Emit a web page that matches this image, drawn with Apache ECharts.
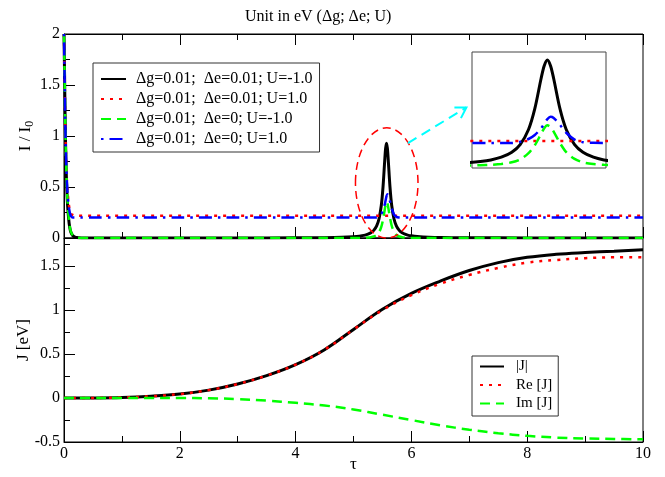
<!DOCTYPE html>
<html>
<head>
<meta charset="utf-8">
<script src="https://cdn.jsdelivr.net/npm/echarts@6/dist/echarts.min.js"></script>
<style>
html, body { margin: 0; padding: 0; background: #fff; }
#chart { width: 665px; height: 477px; }
</style>
</head>
<body>
<div id="chart"></div>
<script>
// ---- top panel: I / I0 against tau ----
var tauI = [0, 0.01, 0.02, 0.03, 0.04, 0.05, 0.06, 0.08, 0.1, 0.12, 0.15, 0.18, 0.22, 0.3, 0.5, 1, 2, 3, 4,
  4.5, 4.8, 5.0, 5.1, 5.2, 5.25, 5.3, 5.35, 5.4, 5.44, 5.48, 5.51, 5.54, 5.555, 5.57, 5.585, 5.6, 5.63, 5.66,
  5.7, 5.74, 5.79, 5.84, 5.9, 5.95, 6.0, 6.1, 6.2, 6.4, 6.7, 7, 8, 9, 10];
// dg=0.01; de=0.01; U=-1.0
var iBlack = [2.0, 1.6, 1.15, 0.85, 0.62, 0.46, 0.34, 0.19, 0.1, 0.055, 0.025, 0.012, 0.004, 0.001, 0, 0, 0, 0.0005, 0.002,
  0.0035, 0.0066, 0.012, 0.0175, 0.028, 0.037, 0.051, 0.075, 0.119, 0.186, 0.319, 0.502, 0.767, 0.88, 0.93, 0.88, 0.767, 0.502, 0.319,
  0.186, 0.119, 0.075, 0.051, 0.035, 0.026, 0.021, 0.014, 0.0098, 0.0058, 0.003, 0.002, 0.001, 0.0005, 0];
// dg=0.01; de=0; U=-1.0
var iGreen = [2.0, 1.62, 1.2, 0.9, 0.67, 0.5, 0.37, 0.21, 0.11, 0.06, 0.028, 0.013, 0.005, 0.001, 0, 0, 0, 0, 0,
  0, 0, 0, 0, 0.002, 0.004, 0.008, 0.015, 0.03, 0.055, 0.11, 0.18, 0.28, 0.33, 0.355, 0.34, 0.3, 0.2, 0.12,
  0.06, 0.03, 0.015, 0.008, 0.004, 0.002, 0.001, 0, 0, 0, 0, 0, 0, 0, 0];
// dg=0.01; de=0; U=1.0
var iBlue = [2.0, 1.6, 1.2, 0.9, 0.7, 0.55, 0.45, 0.32, 0.25, 0.215, 0.2, 0.2, 0.2, 0.2, 0.2, 0.2, 0.2, 0.2, 0.2,
  0.2, 0.2, 0.2, 0.2, 0.2, 0.2, 0.2, 0.2, 0.2, 0.21, 0.235, 0.27, 0.33, 0.37, 0.41, 0.43, 0.42, 0.36, 0.29,
  0.23, 0.207, 0.201, 0.2, 0.2, 0.2, 0.2, 0.2, 0.2, 0.2, 0.2, 0.2, 0.2, 0.2, 0.2];
// dg=0.01; de=0.01; U=1.0
var tauRed = [0, 0.01, 0.02, 0.03, 0.04, 0.05, 0.06, 0.08, 0.1, 0.12, 0.15, 0.18, 1, 2, 3, 4, 5, 6, 7, 8, 9, 10];
var iRed = [2.0, 1.6, 1.2, 0.9, 0.7, 0.56, 0.46, 0.34, 0.27, 0.235, 0.222, 0.218, 0.218, 0.218, 0.218, 0.218,
  0.218, 0.218, 0.218, 0.218, 0.218, 0.218];

// ---- bottom panel: J against tau ----
var tauJ = [0, 0.5, 1, 1.5, 2, 2.5, 3, 3.5, 4, 4.5, 5, 5.5, 6, 6.5, 7, 7.5, 8, 8.5, 9, 9.5, 10];
var jAbs = [0, 0.001, 0.006, 0.02, 0.045, 0.09, 0.16, 0.255, 0.38, 0.55, 0.78, 1.01, 1.19, 1.33, 1.45, 1.54, 1.6, 1.635, 1.655, 1.67, 1.685];
var jRe = [0, 0.001, 0.006, 0.02, 0.045, 0.09, 0.16, 0.255, 0.38, 0.55, 0.78, 1.0, 1.17, 1.3, 1.4, 1.48, 1.54, 1.57, 1.59, 1.6, 1.6];
var jIm = [0, 0, 0, 0, 0, -0.003, -0.012, -0.03, -0.055, -0.085, -0.13, -0.19, -0.25, -0.31, -0.36, -0.4, -0.43, -0.45, -0.46, -0.465, -0.47];

var tauRange = [0, 10];
var iRange = [0, 2];
var jRange = [-0.5, 1.82];
var insetTau = [5.21, 5.85];
var insetI = [-0.02, 1.0];

var namesI = ['\u0394g=0.01;  \u0394e=0.01; U=-1.0', '\u0394g=0.01;  \u0394e=0.01; U=1.0',
  '\u0394g=0.01;  \u0394e=0; U=-1.0', '\u0394g=0.01;  \u0394e=0; U=1.0'];
var namesJ = ['|J|', 'Re [J]', 'Im [J]'];

var FONT = 'Liberation Serif';
var DOT = [3, 6];
var DASH = [10, 6];
var DASHDOT = [2.5, 6, 13, 6];

function pairs(xs, ys) {
  return xs.map(function (x, i) { return [x, ys[i]]; });
}

function line(name, xs, ys, color, type, width, xi, yi, smooth, z) {
  return {
    name: name,
    type: 'line',
    xAxisIndex: xi,
    yAxisIndex: yi,
    z: z || 2,
    data: pairs(xs, ys),
    symbol: 'none',
    showSymbol: false,
    smooth: smooth,
    lineStyle: { color: color, type: type, width: width, cap: 'butt' },
    itemStyle: { color: color },
    animation: false
  };
}

function valueAxis(extra) {
  var ax = {
    type: 'value',
    nameMoveOverlap: false,
    axisLine: { show: true, onZero: false, lineStyle: { color: '#000', width: 1 } },
    axisTick: { show: true, inside: true, length: 11, lineStyle: { color: '#000' } },
    minorTick: { show: true, splitNumber: 2, length: 6, lineStyle: { color: '#000' } },
    splitLine: { show: false },
    axisLabel: { color: '#000', fontFamily: FONT, fontSize: 16, margin: 4 }
  };
  for (var k in extra) ax[k] = extra[k];
  return ax;
}

var noSymbol = { color: 'transparent', borderWidth: 0, opacity: 0 };

var chart = echarts.init(document.getElementById('chart'));

chart.setOption({
  backgroundColor: '#fff',
  animation: false,
  title: {
    text: 'Unit in eV (\u0394g; \u0394e; U)',
    left: 240,
    top: 4,
    textStyle: { fontFamily: FONT, fontSize: 16, fontWeight: 'normal', color: '#000' }
  },
  legend: [{
    data: namesI,
    orient: 'vertical',
    left: 93,
    top: 63,
    padding: [8, 7, 5, 7],
    itemGap: 4,
    itemWidth: 25,
    itemHeight: 14,
    borderColor: '#333',
    borderWidth: 1,
    backgroundColor: '#fff',
    selectedMode: false,
    itemStyle: noSymbol,
    textStyle: { fontFamily: FONT, fontSize: 16, color: '#000', padding: [0, 0, 0, 5] }
  }, {
    data: namesJ,
    orient: 'vertical',
    left: 472,
    top: 356,
    padding: [3, 6, 5, 7],
    itemGap: 3.5,
    itemWidth: 24,
    itemHeight: 13,
    borderColor: '#333',
    borderWidth: 1,
    backgroundColor: '#fff',
    selectedMode: false,
    itemStyle: noSymbol,
    textStyle: { fontFamily: FONT, fontSize: 15, color: '#000', padding: [0, 0, 0, 7] }
  }],
  grid: [
    { left: 64, right: 22, top: 34, height: 204, show: true, borderColor: '#000', borderWidth: 1,
      backgroundColor: '#fff', outerBoundsMode: 'none', containLabel: false },
    { left: 64, right: 22, top: 238, height: 204, show: true, borderColor: '#000', borderWidth: 1,
      backgroundColor: 'transparent', outerBoundsMode: 'none', containLabel: false },
    { left: 472, top: 52, width: 134, height: 116, show: true, borderColor: '#444', borderWidth: 1,
      backgroundColor: '#fff', z: 5, outerBoundsMode: 'none', containLabel: false }
  ],
  xAxis: [
    valueAxis({ gridIndex: 0, min: tauRange[0], max: tauRange[1], interval: 2, position: 'bottom',
      axisLabel: { show: false } }),
    valueAxis({ gridIndex: 0, min: tauRange[0], max: tauRange[1], interval: 2, position: 'top',
      axisLabel: { show: false } }),
    valueAxis({ gridIndex: 1, min: tauRange[0], max: tauRange[1], interval: 2, position: 'bottom',
      name: '\u03c4', nameLocation: 'middle', nameGap: 14,
      nameTextStyle: { fontFamily: FONT, fontSize: 17, color: '#000' },
      axisLabel: { color: '#000', fontFamily: FONT, fontSize: 16, margin: 4 } }),
    { type: 'value', gridIndex: 2, min: insetTau[0], max: insetTau[1], show: false }
  ],
  yAxis: [
    valueAxis({ gridIndex: 0, min: iRange[0], max: iRange[1], interval: 0.5,
      name: '{n|I / I}{s|0}', nameLocation: 'middle', nameGap: 28, nameRotate: 90,
      nameTextStyle: { fontFamily: FONT, color: '#000', rich: {
        n: { fontFamily: FONT, fontSize: 17, color: '#000' },
        s: { fontFamily: FONT, fontSize: 12, color: '#000', padding: [8, 0, 0, 0] } } } }),
    valueAxis({ gridIndex: 1, min: jRange[0], max: jRange[1], interval: 0.5,
      name: 'J [eV]', nameLocation: 'middle', nameGap: 32, nameRotate: 90,
      nameTextStyle: { fontFamily: FONT, fontSize: 17, color: '#000' },
      axisLabel: { color: '#000', fontFamily: FONT, fontSize: 16, margin: 4, showMaxLabel: false } }),
    { type: 'value', gridIndex: 2, min: insetI[0], max: insetI[1], show: false }
  ],
  series: [
    line(namesI[0], tauI, iBlack, '#000', 'solid', 3, 0, 0, 0.3),
    line(namesI[1], tauRed, iRed, '#ff0000', DOT, 2.5, 0, 0, false),
    line(namesI[2], tauI, iGreen, '#00ff00', DASH, 2.5, 0, 0, 0.3),
    line(namesI[3], tauI, iBlue, '#0000ff', DASHDOT, 2.5, 0, 0, 0.3),
    line(namesJ[0], tauJ, jAbs, '#000', 'solid', 3, 2, 1, 0.4),
    line(namesJ[1], tauJ, jRe, '#ff0000', DOT, 2.5, 2, 1, 0.4),
    line(namesJ[2], tauJ, jIm, '#00ff00', DASH, 2.5, 2, 1, 0.4),
    // inset: the same data on zoomed axes, above the inset background
    line('inset-black', tauI, iBlack, '#000', 'solid', 3, 3, 2, 0.3, 6),
    line('inset-red', tauRed, iRed, '#ff0000', DOT, 2.5, 3, 2, false, 6),
    line('inset-green', tauI, iGreen, '#00ff00', DASH, 2.5, 3, 2, 0.3, 6),
    line('inset-blue', tauI, iBlue, '#0000ff', DASHDOT, 2.5, 3, 2, 0.3, 6)
  ]
});

// ellipse round the peak and the arrow to the inset, placed in data units of the top panel
function px(p) { return chart.convertToPixel({ xAxisIndex: 0, yAxisIndex: 0 }, p); }
var c = px([5.574, 0.54]);
var edge = px([5.574 + 0.54, 0.54 + 0.54]);
var a0 = px([5.94, 0.93]);
var a1 = px([6.95, 1.28]);
var ang = Math.atan2(a1[1] - a0[1], a1[0] - a0[0]);
var head = 12, spread = 0.55;
var h1 = [a1[0] - head * Math.cos(ang - spread), a1[1] - head * Math.sin(ang - spread)];
var h2 = [a1[0] - head * Math.cos(ang + spread), a1[1] - head * Math.sin(ang + spread)];

chart.setOption({
  graphic: [
    { type: 'ellipse', z: 10, shape: { cx: c[0], cy: c[1], rx: edge[0] - c[0], ry: c[1] - edge[1] },
      style: { fill: 'none', stroke: '#ff0000', lineWidth: 1.5, lineDash: [8, 5] } },
    { type: 'line', z: 10, shape: { x1: a0[0], y1: a0[1], x2: a1[0], y2: a1[1] },
      style: { stroke: '#00ffff', lineWidth: 2, lineDash: [10, 6] } },
    { type: 'polyline', z: 10, shape: { points: [h1, a1, h2] },
      style: { stroke: '#00ffff', lineWidth: 2, fill: 'none' } }
  ]
});
</script>
</body>
</html>
